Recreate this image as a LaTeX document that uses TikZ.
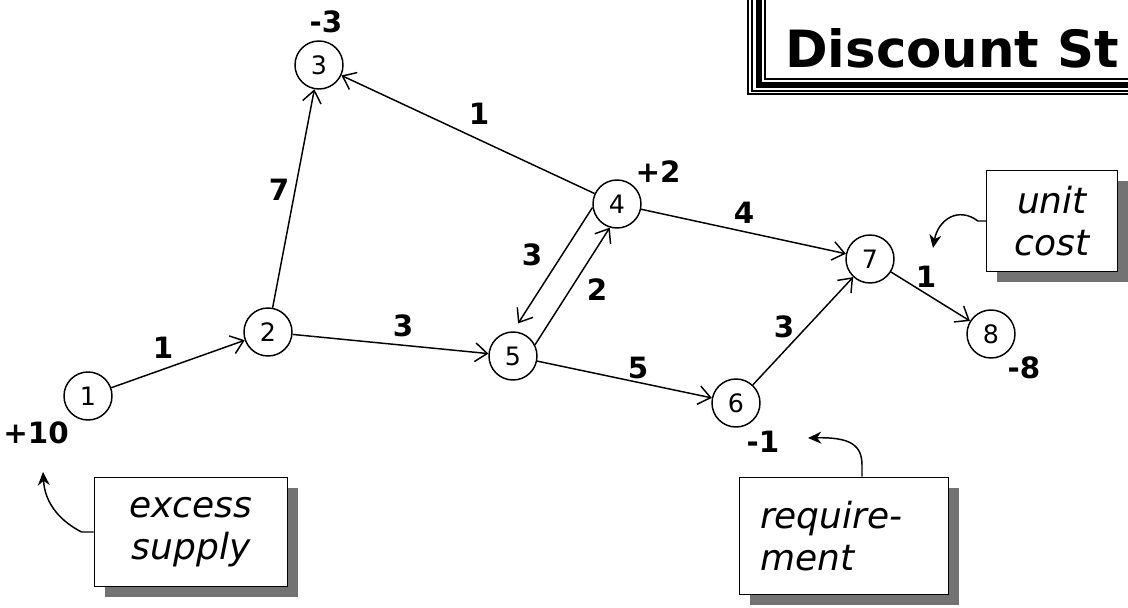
\documentclass[tikz,border=0pt]{standalone}
\usepackage{fontspec}
\setmainfont{DejaVu Sans}
\usetikzlibrary{arrows.meta,shadows}
\begin{document}
\begin{tikzpicture}[x=0.75pt,y=-0.75pt,
  vtx/.style={circle,draw,line width=1.1pt,minimum size=36pt,inner sep=0pt,
    font=\fontsize{19}{19}\selectfont},
  lbl/.style={font=\bfseries\fontsize{22}{22}\selectfont,inner sep=0pt},
  arc/.style={line width=1.1pt,-{Straight Barb[length=9pt,width=14pt,line width=1.1pt]}},
  curv/.style={line width=1.1pt,-{Stealth[length=10pt,width=9pt]}},
  note/.style={draw,line width=1.1pt,fill=white,inner sep=0pt,
    font=\itshape\fontsize{27}{31}\selectfont,
    drop shadow={shadow xshift=8pt,shadow yshift=-8pt,fill=black!55,opacity=1}},
  frame/.style={draw,line width=1.1pt}
]
\useasboundingbox (0,0) rectangle (1128,607);

% title frame
\draw[frame] (748,-20) rectangle (1150,94);
\draw[frame] (752,-20) rectangle (1150,91);
\draw[line width=4.5pt] (759,-20) rectangle (1150,85);
\draw[frame] (765,-20) rectangle (1150,79);
\node[anchor=base west,inner sep=0pt,font=\bfseries\fontsize{38.5}{40}\selectfont] (title) at (785,67) {Discount St};

% vertices
\node[vtx] (n1) at (88,396) {1};
\node[vtx] (n2) at (268,332) {2};
\node[vtx] (n3) at (319,65) {3};
\node[vtx] (n4) at (617,204) {4};
\node[vtx] (n5) at (513,356) {5};
\node[vtx] (n6) at (736,403) {6};
\node[vtx] (n7) at (870,259) {7};
\node[vtx] (n8) at (991,334) {8};

% supplies / demands
\node[lbl] (s3) at (326,22) {-3};
\node[lbl] (s4) at (658,172) {+2};
\node[lbl] (s8) at (1024,368) {-8};
\node[lbl] (s1) at (36,433) {+10};
\node[lbl] (s6) at (763,442) {-1};

% arcs
\draw[arc] (n1) -- (n2);
\draw[arc] (n2) -- (n3);
\draw[arc] (n4) -- (n3);
\draw[arc] (n4) -- (n7);
\draw[arc,shorten >=7pt] (n4.188) -- (n5.90);
\draw[arc] (n5.27) -- (n4.253);
\draw[arc] (n2) -- (n5);
\draw[arc] (n5) -- (n6);
\draw[arc] (n6) -- (n7);
\draw[arc] (n7) -- (n8);

% costs
\node[lbl] (c12) at (163,348) {1};
\node[lbl] (c23) at (279,190) {7};
\node[lbl] (c43) at (479,114) {1};
\node[lbl] (c47) at (744,213) {4};
\node[lbl] (c45) at (532,255) {3};
\node[lbl] (c54) at (597,290) {2};
\node[lbl] (c25) at (403,326) {3};
\node[lbl] (c56) at (638,368) {5};
\node[lbl] (c67) at (784,327) {3};
\node[lbl] (c78) at (926,277) {1};

% annotation boxes
\node[note,minimum width=98pt,minimum height=76pt,align=center] (uc) at (1052,221) {unit\\cost};
\node[note,minimum width=145pt,minimum height=82pt,align=center] (es) at (191,532) {excess\\supply};
\node[note,minimum width=157pt,minimum height=88pt,align=left,text width=126pt] (rq) at (844,536) {require-\\ment};

\coordinate (ucTip) at (933,248);
\coordinate (esTip) at (43,472);
\coordinate (rqTip) at (808,438);
\draw[curv] (uc.west) -- ++(-8,0) .. controls (958,206) and (938,220) .. (ucTip);
\draw[curv] (es.west) -- ++(-12,0) .. controls (62,522) and (45,505) .. (esTip);
\draw[curv] (rq.north -| 862,0) -- (862,465) .. controls (862,445) and (850,437) .. (rqTip);
\end{tikzpicture}
\end{document}
